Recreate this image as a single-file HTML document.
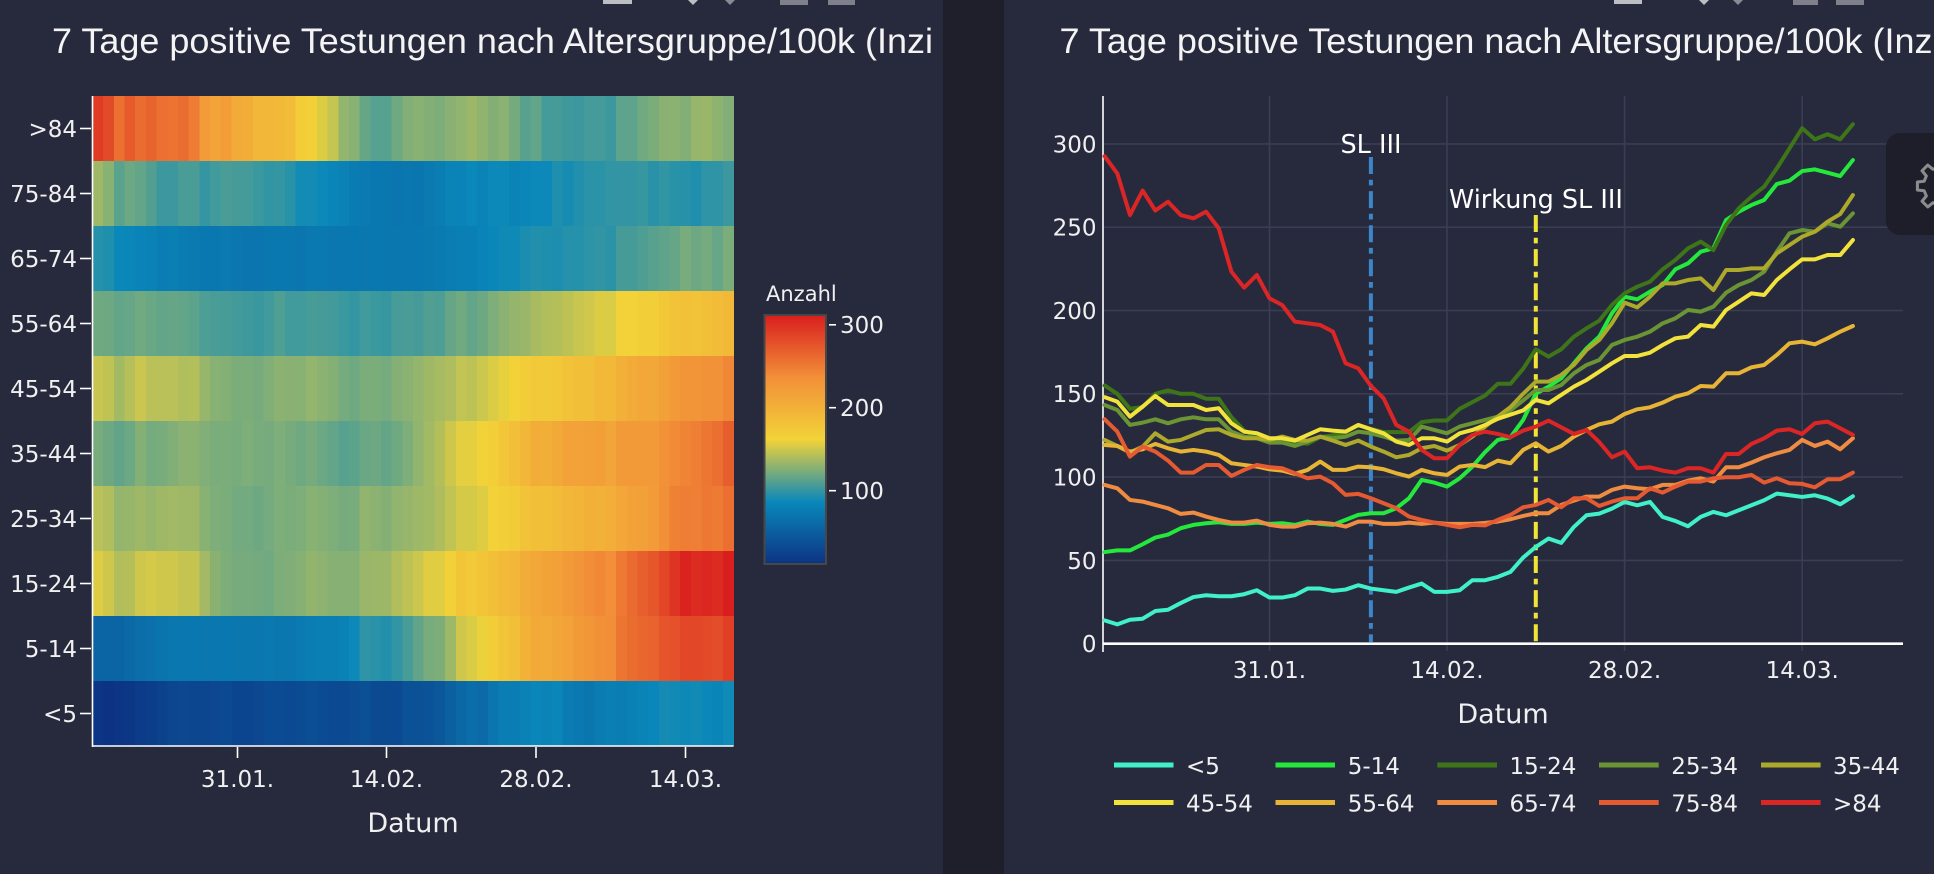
<!DOCTYPE html>
<html><head><meta charset="utf-8">
<style>
html,body{margin:0;padding:0;background:#272a3d;overflow:hidden;width:1934px;height:874px}
svg{display:block}
.t{font-family:"Liberation Sans",Arial,sans-serif;fill:#f4f4f4}
.k{font-family:"DejaVu Sans","Liberation Sans",sans-serif;fill:#f0f0f0}
</style></head><body>
<svg width="1934" height="874" viewBox="0 0 1934 874" xmlns="http://www.w3.org/2000/svg">
<defs>
<linearGradient id="cb" x1="0" y1="0" x2="0" y2="1">
<stop offset="0" stop-color="rgb(217,30,30)"/>
<stop offset="0.25" stop-color="rgb(242,143,56)"/>
<stop offset="0.5" stop-color="rgb(242,211,56)"/>
<stop offset="0.75" stop-color="rgb(10,136,186)"/>
<stop offset="1" stop-color="rgb(12,51,131)"/>
</linearGradient>
<clipPath id="lc"><rect x="0" y="0" width="943" height="874"/></clipPath>
</defs>
<rect width="1934" height="874" fill="#272a3d"/>
<rect x="943" y="0" width="61" height="874" fill="#1f1f2b"/>

<!-- modebar remnants -->
<g fill="#bdbdc4">
<rect x="603" y="0" width="29" height="4"/>
<polygon points="688,0 698,0 693,5"/>
<polygon points="725,0 735,0 730,5" fill="#8a8a94"/>
<rect x="780" y="0" width="28" height="5" fill="#80808c"/>
<rect x="828" y="0" width="27" height="5" fill="#80808c"/>
<rect x="1614" y="0" width="28" height="4"/>
<polygon points="1699,0 1709,0 1704,5"/>
<polygon points="1733,0 1743,0 1738,5" fill="#8a8a94"/>
<rect x="1793" y="0" width="25" height="5" fill="#80808c"/>
<rect x="1836" y="0" width="28" height="5" fill="#80808c"/>
</g>

<!-- LEFT PANEL -->
<g clip-path="url(#lc)">
<text class="t" x="52" y="53" font-size="35.5" textLength="881" lengthAdjust="spacingAndGlyphs">7 Tage positive Testungen nach Altersgruppe/100k (Inzi</text>
</g>
<g id="hm" shape-rendering="crispEdges"></g>
<g stroke="#ffffff" stroke-width="1.6" fill="none">
<line x1="92.5" y1="96" x2="92.5" y2="747"/>
<line x1="92" y1="746" x2="733.6" y2="746"/>
<line x1="80" y1="713.5" x2="91" y2="713.5"/>
<line x1="80" y1="648.5" x2="91" y2="648.5"/>
<line x1="80" y1="583.5" x2="91" y2="583.5"/>
<line x1="80" y1="518.5" x2="91" y2="518.5"/>
<line x1="80" y1="453.5" x2="91" y2="453.5"/>
<line x1="80" y1="388.5" x2="91" y2="388.5"/>
<line x1="80" y1="323.5" x2="91" y2="323.5"/>
<line x1="80" y1="258.5" x2="91" y2="258.5"/>
<line x1="80" y1="193.5" x2="91" y2="193.5"/>
<line x1="80" y1="128.5" x2="91" y2="128.5"/>
<line x1="237.5" y1="747" x2="237.5" y2="758"/>
<line x1="386.5" y1="747" x2="386.5" y2="758"/>
<line x1="536" y1="747" x2="536" y2="758"/>
<line x1="685.5" y1="747" x2="685.5" y2="758"/>
</g>
<g class="k" font-size="23" text-anchor="end">
<text x="77" y="722">&lt;5</text>
<text x="77" y="657">5-14</text>
<text x="77" y="592">15-24</text>
<text x="77" y="527">25-34</text>
<text x="77" y="462">35-44</text>
<text x="77" y="397">45-54</text>
<text x="77" y="332">55-64</text>
<text x="77" y="267">65-74</text>
<text x="77" y="202">75-84</text>
<text x="77" y="137">&gt;84</text>
</g>
<g class="k" font-size="23" text-anchor="middle">
<text x="237.5" y="787">31.01.</text>
<text x="386.5" y="787">14.02.</text>
<text x="536" y="787">28.02.</text>
<text x="685.5" y="787">14.03.</text>
</g>
<text class="k" x="413" y="832" font-size="27" text-anchor="middle">Datum</text>
<!-- colorbar -->
<text class="k" x="766" y="301" font-size="21">Anzahl</text>
<rect x="764.5" y="315" width="61.5" height="249" fill="url(#cb)" stroke="#474747" stroke-width="2"/>
<g stroke="#ffffff" stroke-width="1.6">
<line x1="829" y1="324.8" x2="836" y2="324.8"/>
<line x1="829" y1="407.7" x2="836" y2="407.7"/>
<line x1="829" y1="490.7" x2="836" y2="490.7"/>
</g>
<g class="k" font-size="23">
<text x="840" y="333">300</text>
<text x="840" y="416">200</text>
<text x="840" y="499">100</text>
</g>

<!-- RIGHT PANEL -->
<text class="t" x="1059.5" y="53" font-size="35.5" textLength="881" lengthAdjust="spacingAndGlyphs">7 Tage positive Testungen nach Altersgruppe/100k (Inzi</text>
<g stroke="#3b3e53" stroke-width="1.6">
<line x1="1103" y1="143.9" x2="1903" y2="143.9"/>
<line x1="1103" y1="227.2" x2="1903" y2="227.2"/>
<line x1="1103" y1="310.5" x2="1903" y2="310.5"/>
<line x1="1103" y1="393.8" x2="1903" y2="393.8"/>
<line x1="1103" y1="477.1" x2="1903" y2="477.1"/>
<line x1="1103" y1="560.4" x2="1903" y2="560.4"/>
<line x1="1269.5" y1="96" x2="1269.5" y2="651"/>
<line x1="1447" y1="96" x2="1447" y2="651"/>
<line x1="1624.6" y1="96" x2="1624.6" y2="651"/>
<line x1="1802.2" y1="96" x2="1802.2" y2="651"/>
</g>
<line x1="1103" y1="96" x2="1103" y2="652" stroke="#ffffff" stroke-width="1.6"/>
<line x1="1103" y1="643.7" x2="1903" y2="643.7" stroke="#ffffff" stroke-width="2.6"/>
<g class="k" font-size="23" text-anchor="end">
<text x="1096.5" y="152.3">300</text>
<text x="1096.5" y="235.6">250</text>
<text x="1096.5" y="318.9">200</text>
<text x="1096.5" y="402.2">150</text>
<text x="1096.5" y="485.5">100</text>
<text x="1096.5" y="568.8">50</text>
<text x="1096.5" y="652.1">0</text>
</g>
<g class="k" font-size="23" text-anchor="middle">
<text x="1269.5" y="678">31.01.</text>
<text x="1447" y="678">14.02.</text>
<text x="1624.6" y="678">28.02.</text>
<text x="1802.2" y="678">14.03.</text>
</g>
<text class="k" x="1503" y="723" font-size="27" text-anchor="middle">Datum</text>

<!-- vertical markers -->
<line x1="1370.9" y1="157" x2="1370.9" y2="642" stroke="#3a86c8" stroke-width="4" stroke-dasharray="17,5.7,5.7,5.7"/>
<line x1="1535.8" y1="215" x2="1535.8" y2="642" stroke="#f2e436" stroke-width="4" stroke-dasharray="17,5.7,5.7,5.7"/>

<!-- series -->
<g transform="translate(1104.6,643.7) scale(12.683,-1.666)" fill="none" stroke-width="4" stroke-linejoin="round" stroke-linecap="round">
<path id="c0" vector-effect="non-scaling-stroke" stroke="#40f0c6" d="M0 14L1 11.6L2 14.4L3 15L4 19.6L5 20.4L6 24.4L7 28L8 29.1L9 28.5L10 28.5L11 29.7L12 32.1L13 27.7L14 27.7L15 29.1L16 33.1L17 33.1L18 31.7L19 32.5L20 35.1L21 33.1L22 32.1L23 31.1L24 33.7L25 36.1L26 31.1L27 31.1L28 32.1L29 38.1L30 38.1L31 40.1L32 43.1L33 51.7L34 58.1L35 63.1L36 60.5L37 70.1L38 77.1L39 78.1L40 81.1L41 85.1L42 83.1L43 85.1L44 76.1L45 73.7L46 70.5L47 76.1L48 79.1L49 77.1L50 80.1L51 83.1L52 86.1L53 90.1L54 89.1L55 88.1L56 89.1L57 87.1L58 83.7L59 88.5"/>
<path id="c1" vector-effect="non-scaling-stroke" stroke="#24e83c" d="M0 55L1 56L2 56L3 59.7L4 63.7L5 65.5L6 69.3L7 71.3L8 72.3L9 72.9L10 71.9L11 71.9L12 72.7L13 71.9L14 72.3L15 71.3L16 73.3L17 71.9L18 71.3L19 74.3L20 77.3L21 78.3L22 78.3L23 81.3L24 87.3L25 98.3L26 96.7L27 94.3L28 99.3L29 106.3L30 115L31 122.3L32 123.9L33 134.3L34 150L35 154.3L36 159.3L37 168.3L38 177.3L39 184.3L40 198.3L41 208.3L42 206.7L43 211.3L44 215.3L45 224.7L46 228.3L47 235.3L48 237.3L49 254.3L50 259.3L51 263.3L52 266.3L53 275.9L54 277.9L55 283.7L56 284.7L57 282.7L58 280.7L59 290.3"/>
<path id="c2" vector-effect="non-scaling-stroke" stroke="#3d7518" d="M0 155L1 150L2 141L3 142L4 150L5 152L6 150L7 150L8 147L9 147L10 136L11 128L12 124L13 122L14 122L15 121L16 120L17 124L18 125L19 127L20 131L21 129L22 127L23 127L24 127L25 133L26 134L27 134L28 141L29 145L30 149L31 156L32 156L33 165L34 176.7L35 172.3L36 176.7L37 184.3L38 189.3L39 193.9L40 203.3L41 210.3L42 214.3L43 217.3L44 224.7L45 230.3L46 237.3L47 241.3L48 236.3L49 251.3L50 261.3L51 268.3L52 274.3L53 285.3L54 297.3L55 309.4L56 302.7L57 305.8L58 302.7L59 311.8"/>
<path id="c3" vector-effect="non-scaling-stroke" stroke="#6b9434" d="M0 143.3L1 140.3L2 131.3L3 132.7L4 134.7L5 132.3L6 134.7L7 135.9L8 134.7L9 134.7L10 127.3L11 124.3L12 123.3L13 120.7L14 120.7L15 118.7L16 121.3L17 124.3L18 123.3L19 124.3L20 127.3L21 126.3L22 124.3L23 121.9L24 122.3L25 130.3L26 128.3L27 126.3L28 130.3L29 132.3L30 134.3L31 136.3L32 140L33 146L34 152.3L35 152.3L36 155.3L37 162.3L38 167.3L39 170.3L40 179.3L41 182.3L42 184.3L43 187.3L44 192.3L45 195.3L46 200.3L47 199.3L48 202.3L49 210.7L50 215.3L51 218.3L52 223.3L53 235.3L54 246.3L55 248.3L56 247.3L57 252.3L58 250.3L59 258.3"/>
<path id="c4" vector-effect="non-scaling-stroke" stroke="#aca92b" d="M0 122.3L1 118.7L2 114.7L3 118.3L4 126.3L5 121.3L6 122.3L7 125.3L8 128.3L9 128.7L10 125.3L11 123.3L12 123.3L13 122.3L14 124.3L15 122.3L16 121.9L17 124.3L18 121.9L19 119.3L20 121.9L21 118.3L22 115.3L23 111.9L24 113.3L25 117.3L26 118.7L27 115.9L28 119.3L29 124.3L30 130.3L31 136.3L32 142L33 150L34 157.3L35 157.3L36 161.3L37 167.3L38 176.3L39 182.3L40 192.3L41 204.7L42 201.9L43 208.3L44 216.3L45 216.3L46 218.3L47 219.3L48 212.3L49 224.3L50 224.3L51 225.3L52 225.3L53 234.3L54 239.3L55 244.3L56 247.3L57 253.3L58 257.9L59 269.3"/>
<path id="c5" vector-effect="non-scaling-stroke" stroke="#f2e23c" d="M0 148L1 145.3L2 136.3L3 142.3L4 148.7L5 143.3L6 143.3L7 143.3L8 140.3L9 141.3L10 132.3L11 127.3L12 126.3L13 123.3L14 123.3L15 121.9L16 125.3L17 128.7L18 127.9L19 127.3L20 131.3L21 128.7L22 126.3L23 121.3L24 119.3L25 123.3L26 123.3L27 121.3L28 126.3L29 128.3L30 131.3L31 135L32 137.5L33 140L34 146.3L35 144.3L36 149.3L37 154.3L38 158.3L39 163.3L40 168.3L41 172.7L42 172.7L43 174.7L44 179.3L45 183.3L46 184.3L47 191.3L48 190.3L49 200.3L50 205.3L51 210.3L52 209.3L53 218.3L54 224.7L55 230.7L56 230.7L57 233.3L58 233.3L59 242.3"/>
<path id="c6" vector-effect="non-scaling-stroke" stroke="#e8b436" d="M0 119.3L1 118.7L2 115.3L3 116.7L4 119.9L5 117.3L6 115.3L7 116.3L8 115.3L9 113.3L10 108.3L11 107.3L12 106.3L13 104.7L14 103.9L15 101.9L16 104.3L17 109.3L18 104.3L19 104.3L20 106.3L21 105.9L22 104.7L23 102.3L24 100.3L25 104.3L26 102.3L27 101.3L28 106.3L29 107.3L30 106L31 109.9L32 108.3L33 116.3L34 120.3L35 115.3L36 118.7L37 124.3L38 128.3L39 131.7L40 133.3L41 137.9L42 140.7L43 141.9L44 144.7L45 148.3L46 150.3L47 154.7L48 154.3L49 162.3L50 162.3L51 165.9L52 167.3L53 173.3L54 180.3L55 181.3L56 179.7L57 183.3L58 187.3L59 190.7"/>
<path id="c7" vector-effect="non-scaling-stroke" stroke="#f08c42" d="M0 95.3L1 93.3L2 86.3L3 85.3L4 83.3L5 81.3L6 77.9L7 78.7L8 76.3L9 74.3L10 72.7L11 72.7L12 73.9L13 71.3L14 70.3L15 70.3L16 72.3L17 72.7L18 71.9L19 70.3L20 73.3L21 73.3L22 71.9L23 71.9L24 72.7L25 71.9L26 72.7L27 71.9L28 71.9L29 71.9L30 72.5L31 73.3L32 74.7L33 76.7L34 78.3L35 78.3L36 83.3L37 85.9L38 88.3L39 88.3L40 92.3L41 94.3L42 93.3L43 92.7L44 95.3L45 95.3L46 97.9L47 99.3L48 97.3L49 105.9L50 105.9L51 108.7L52 111.9L53 114.3L54 116.3L55 122.3L56 118.7L57 121.3L58 116.7L59 123.3"/>
<path id="c8" vector-effect="non-scaling-stroke" stroke="#e65a32" d="M0 134.7L1 127.3L2 112.3L3 118.3L4 115.3L5 109.9L6 102.7L7 102.7L8 107.3L9 107.3L10 100.7L11 104.3L12 107.3L13 105.9L14 105.3L15 102.3L16 99.3L17 100.3L18 96.3L19 89.3L20 89.9L21 87.3L22 84.3L23 81.3L24 76.3L25 74.3L26 72.7L27 71.3L28 69.9L29 71.3L30 71L31 74.3L32 77.3L33 81.9L34 83.3L35 86.3L36 81.9L37 87.3L38 87.3L39 82.7L40 85.3L41 87.3L42 87.3L43 93.3L44 90.7L45 94.3L46 97.3L47 97.3L48 99.3L49 99.9L50 99.9L51 101.3L52 96.7L53 99.3L54 96.3L55 95.9L56 93.9L57 98.7L58 98.7L59 102.7"/>
<path id="c9" vector-effect="non-scaling-stroke" stroke="#dc2626" d="M0 292.6L1 282.3L2 257.3L3 272L4 260L5 265.3L6 257.3L7 255.3L8 259.3L9 249.3L10 223.3L11 213.7L12 221.3L13 207.3L14 203.3L15 193.3L16 192.3L17 191.3L18 187.3L19 168.3L20 165.3L21 154.7L22 147.3L23 131.3L24 127.3L25 116.3L26 111.3L27 111.3L28 119.3L29 125.3L30 127.3L31 125.9L32 123.9L33 127.9L34 130.3L35 133.9L36 129.9L37 125.9L38 128.3L39 121L40 111.9L41 115.3L42 105.3L43 105.9L44 103.9L45 102.7L46 105.3L47 105.3L48 102.7L49 113.9L50 113.9L51 119.9L52 123.3L53 127.9L54 128.7L55 125.9L56 132.3L57 133.3L58 129.3L59 125.3"/>
</g>

<!-- annotations -->
<text class="k" x="1371" y="153" font-size="25.5" text-anchor="middle" style="fill:#ffffff">SL III</text>
<text class="k" x="1536" y="208" font-size="25.5" text-anchor="middle" style="fill:#ffffff">Wirkung SL III</text>

<!-- legend -->
<g stroke-width="5">
<line x1="1114" y1="765" x2="1173.5" y2="765" stroke="#40f0c6"/>
<line x1="1275.5" y1="765" x2="1335" y2="765" stroke="#24e83c"/>
<line x1="1437.3" y1="765" x2="1497" y2="765" stroke="#3d7518"/>
<line x1="1599" y1="765" x2="1658.7" y2="765" stroke="#6b9434"/>
<line x1="1761" y1="765" x2="1820.6" y2="765" stroke="#aca92b"/>
<line x1="1114" y1="802.5" x2="1173.5" y2="802.5" stroke="#f2e23c"/>
<line x1="1275.5" y1="802.5" x2="1335" y2="802.5" stroke="#e8b436"/>
<line x1="1437.3" y1="802.5" x2="1497" y2="802.5" stroke="#f08c42"/>
<line x1="1599" y1="802.5" x2="1658.7" y2="802.5" stroke="#e65a32"/>
<line x1="1761" y1="802.5" x2="1820.6" y2="802.5" stroke="#dc2626"/>
</g>
<g class="k" font-size="23">
<text x="1186" y="774">&lt;5</text>
<text x="1347.7" y="774">5-14</text>
<text x="1509.5" y="774">15-24</text>
<text x="1671.2" y="774">25-34</text>
<text x="1833" y="774">35-44</text>
<text x="1186" y="811.5">45-54</text>
<text x="1347.7" y="811.5">55-64</text>
<text x="1509.5" y="811.5">65-74</text>
<text x="1671.2" y="811.5">75-84</text>
<text x="1833" y="811.5">&gt;84</text>
</g>

<!-- settings box -->
<rect x="1886" y="133" width="70" height="102" rx="14" fill="#1c1d29" fill-opacity="0.95"/>
<polygon transform="translate(1943,186) scale(1.08)" fill="none" stroke="#8c8c8c" stroke-width="2.8" stroke-linejoin="round"
points="23.7,-3.75 23.7,3.75 17.47,4.35 15.43,9.27 19.42,14.11 14.11,19.42 9.27,15.43 4.35,17.47 3.75,23.7 -3.75,23.7 -4.35,17.47 -9.27,15.43 -14.11,19.42 -19.42,14.11 -15.43,9.27 -17.47,4.35 -23.7,3.75 -23.7,-3.75 -17.47,-4.35 -15.43,-9.27 -19.42,-14.11 -14.11,-19.42 -9.27,-15.43 -4.35,-17.47 -3.75,-23.7 3.75,-23.7 4.35,-17.47 9.27,-15.43 14.11,-19.42 19.42,-14.11 15.43,-9.27 17.47,-4.35"/>
</svg>
<script>
(function(){
var NS='http://www.w3.org/2000/svg';
var st=[[12,51,131],[10,136,186],[242,211,56],[242,143,56],[217,30,30]];
function pc(t){t=Math.max(0,Math.min(1,t));var s=t*4;var i=Math.min(3,Math.floor(s));var f=s-i;var a=st[i],b=st[i+1];
return 'rgb('+Math.round(a[0]+(b[0]-a[0])*f)+','+Math.round(a[1]+(b[1]-a[1])*f)+','+Math.round(a[2]+(b[2]-a[2])*f)+')';}
var data=[];
for(var r=0;r<10;r++){
 var s=document.getElementById('c'+r).getAttribute('d').replace(/[ML]/g,' ').trim().split(/\s+/);
 var v=[];for(var i=1;i<s.length;i+=2)v.push(parseFloat(s[i]));data.push(v);
}
var mn=Infinity,mx=-Infinity;
data.forEach(function(a){a.forEach(function(x){if(x<mn)mn=x;if(x>mx)mx=x;});});
var g=document.getElementById('hm');
var x0=92.5,w=(733.6-92.5)/60;
for(var r=0;r<10;r++){
 for(var d=0;d<60;d++){
  var e=document.createElementNS(NS,'rect');
  e.setAttribute('x',(x0+d*w).toFixed(2));
  e.setAttribute('y',(746-65*(r+1)).toFixed(2));
  e.setAttribute('width',(w+0.6).toFixed(2));
  e.setAttribute('height','65');
  e.setAttribute('fill',pc((data[r][d]-mn)/(mx-mn)));
  g.appendChild(e);
 }
}
})();
</script>
</body></html>
